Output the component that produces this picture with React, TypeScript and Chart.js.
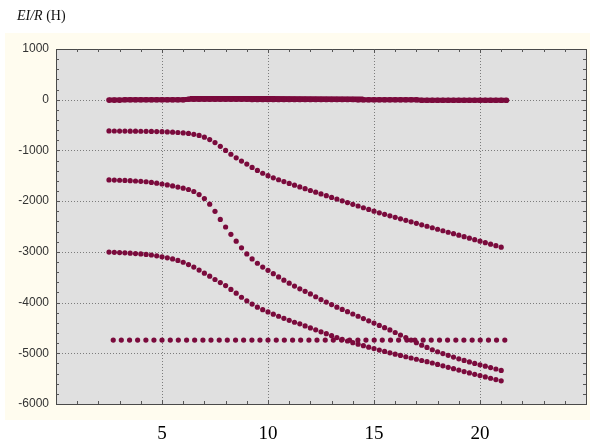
import React, { useEffect, useRef } from "react";
import { Chart, registerables } from "chart.js";
Chart.register(...registerables);

// ---- data ----
const X = [2.5, 2.75, 3, 3.25, 3.5, 3.75, 4, 4.25, 4.5, 4.75, 5, 5.25, 5.5, 5.75, 6, 6.25, 6.5, 6.75, 7, 7.25, 7.5, 7.75, 8, 8.25, 8.5, 8.75, 9, 9.25, 9.5, 9.75, 10, 10.25, 10.5, 10.75, 11, 11.25, 11.5, 11.75, 12, 12.25, 12.5, 12.75, 13, 13.25, 13.5, 13.75, 14, 14.25, 14.5, 14.75, 15, 15.25, 15.5, 15.75, 16, 16.25, 16.5, 16.75, 17, 17.25, 17.5, 17.75, 18, 18.25, 18.5, 18.75, 19, 19.25, 19.5, 19.75, 20, 20.25, 20.5, 20.75, 21];

const CURVE_A = [-615, -617, -618, -619, -620, -621, -622, -624, -626, -628, -631, -635, -640, -646, -654, -665, -682, -705, -738, -785, -845, -920, -1000, -1075, -1145, -1210, -1270, -1335, -1395, -1450, -1498, -1540, -1578, -1615, -1650, -1685, -1720, -1755, -1790, -1824, -1858, -1892, -1926, -1960, -1994, -2028, -2062, -2096, -2130, -2164, -2198, -2230, -2260, -2290, -2319, -2348, -2378, -2407, -2437, -2466, -2495, -2525, -2554, -2584, -2613, -2642, -2672, -2701, -2731, -2760, -2790, -2819, -2848, -2878, -2907];

const CURVE_B = [-1582, -1585, -1588, -1592, -1597, -1603, -1610, -1618, -1630, -1645, -1662, -1680, -1700, -1722, -1745, -1770, -1810, -1870, -1950, -2060, -2200, -2360, -2510, -2655, -2790, -2920, -3040, -3140, -3225, -3300, -3365, -3430, -3495, -3558, -3618, -3675, -3728, -3778, -3830, -3885, -3940, -3990, -4040, -4090, -4135, -4180, -4225, -4270, -4315, -4360, -4405, -4450, -4495, -4540, -4590, -4640, -4690, -4740, -4790, -4840, -4885, -4930, -4970, -5005, -5040, -5075, -5110, -5140, -5170, -5200, -5228, -5255, -5282, -5310, -5338];

const CURVE_C = [-3005, -3010, -3015, -3020, -3026, -3033, -3040, -3050, -3062, -3078, -3097, -3118, -3140, -3168, -3205, -3250, -3300, -3360, -3420, -3480, -3545, -3605, -3665, -3740, -3815, -3895, -3965, -4030, -4090, -4140, -4185, -4228, -4270, -4310, -4350, -4388, -4420, -4460, -4500, -4538, -4576, -4614, -4652, -4690, -4725, -4758, -4790, -4820, -4850, -4880, -4908, -4936, -4963, -4990, -5017, -5043, -5068, -5093, -5118, -5142, -5166, -5192, -5220, -5248, -5276, -5304, -5332, -5360, -5388, -5414, -5440, -5466, -5492, -5518, -5544];

const FLAT_X = [2.7, 3.08, 3.47, 3.85, 4.24, 4.62, 5.0, 5.39, 5.77, 6.16, 6.54, 6.93, 7.31, 7.7, 8.08, 8.47, 8.85, 9.24, 9.62, 10.0, 10.39, 10.77, 11.16, 11.54, 11.93, 12.31, 12.7, 13.08, 13.47, 13.85, 14.24, 14.62, 15.01, 15.39, 15.78, 16.16, 16.55, 16.93, 17.32, 17.7, 18.09, 18.47, 18.86, 19.24, 19.63, 20.01, 20.4, 20.78, 21.17];
const FLAT_Y = [-4740, -4740, -4740, -4740, -4740, -4740, -4740, -4740, -4740, -4740, -4740, -4740, -4740, -4740, -4740, -4740, -4740, -4740, -4740, -4740, -4740, -4740, -4740, -4740, -4740, -4740, -4740, -4740, -4740, -4740, -4740, -4740, -4740, -4740, -4740, -4740, -4740, -4740, -4740, -4740, -4740, -4740, -4740, -4740, -4740, -4740, -4740, -4740, -4740];

const BAND_X = [2.5, 2.75, 3, 3.25, 3.5, 3.75, 4, 4.25, 4.5, 4.75, 5, 5.25, 5.5, 5.75, 6, 6.25, 6.5, 6.75, 7, 7.25, 7.5, 7.75, 8, 8.25, 8.5, 8.75, 9, 9.25, 9.5, 9.75, 10, 10.25, 10.5, 10.75, 11, 11.25, 11.5, 11.75, 12, 12.25, 12.5, 12.75, 13, 13.25, 13.5, 13.75, 14, 14.25, 14.5, 14.75, 15, 15.25, 15.5, 15.75, 16, 16.25, 16.5, 16.75, 17, 17.25, 17.5, 17.75, 18, 18.25, 18.5, 18.75, 19, 19.25, 19.5, 19.75, 20, 20.25, 20.5, 20.75, 21, 21.25];
const BAND_Y = [-8, -8, -8, 0, 0, 0, 0, 0, 0, 0, 0, 0, 0, 0, 0, 10, 10, 10, 10, 10, 10, 10, 10, 10, 10, 10, 10, 5, 5, 5, 5, 5, 5, 5, 5, 5, 5, 5, 5, 5, 5, 5, 5, 5, 5, 5, 5, 0, 0, 0, 0, 0, 0, 0, 0, 0, 0, 0, 0, -10, -10, -10, -10, -10, -10, -10, -10, -10, -10, -10, -10, -10, -10, -10, -10, -10, -10];
const BAND_TOP_X = [6.3, 10, 14.5];
const BAND_TOP_Y = [35, 35, 25];

const X_TICKS = [5, 10, 15, 20];
const Y_TICKS = [1000, 0, -1000, -2000, -3000, -4000, -5000, -6000];
const X_GRID = [5, 10, 15, 20];
const Y_GRID = [0, -1000, -2000, -3000, -4000, -5000];

const MAROON = "#7a0a3c";

export default function App() {
  const ref = useRef<HTMLCanvasElement>(null);

  useEffect(() => {
    const canvas = ref.current!;
    const pts = (xs: number[], ys: number[]) => xs.map((x, i) => ({ x, y: ys[i] }));

    const decor = {
      id: "decor",
      beforeDraw(chart: any) {
        const { ctx, chartArea: ca, scales } = chart;
        const sx = scales.x, sy = scales.y;
        ctx.save();
        ctx.fillStyle = "#ffffff";
        ctx.fillRect(0, 0, chart.width, chart.height);
        ctx.fillStyle = "#fffcef";
        ctx.fillRect(5, 33, chart.width - 5, 420 - 33);
        ctx.fillStyle = "#e0e0e0";
        ctx.fillRect(ca.left, ca.top, ca.right - ca.left, ca.bottom - ca.top);
        // dotted grid
        ctx.strokeStyle = "#7c7c7c";
        ctx.lineWidth = 1;
        ctx.setLineDash([1, 2]);
        for (const v of X_GRID) {
          const p = Math.round(sx.getPixelForValue(v)) + 0.5;
          ctx.beginPath(); ctx.moveTo(p, ca.top); ctx.lineTo(p, ca.bottom); ctx.stroke();
        }
        for (const v of Y_GRID) {
          const p = Math.round(sy.getPixelForValue(v)) + 0.5;
          ctx.beginPath(); ctx.moveTo(ca.left, p); ctx.lineTo(ca.right, p); ctx.stroke();
        }
        ctx.setLineDash([]);
        // frame
        ctx.strokeStyle = "#4a4a4a";
        ctx.strokeRect(Math.round(ca.left) + 0.5, Math.round(ca.top) + 0.5, Math.round(ca.right - ca.left), Math.round(ca.bottom - ca.top));
        // inward ticks
        ctx.strokeStyle = "#555";
        for (let v = 1; v < 25; v++) {
          const p = Math.round(sx.getPixelForValue(v)) + 0.5;
          const len = v % 5 === 0 ? 4 : 3;
          ctx.beginPath();
          ctx.moveTo(p, ca.bottom); ctx.lineTo(p, ca.bottom - len);
          ctx.moveTo(p, ca.top); ctx.lineTo(p, ca.top + len);
          ctx.stroke();
        }
        for (let v = -5800; v < 1000; v += 200) {
          const p = Math.round(sy.getPixelForValue(v)) + 0.5;
          const len = v % 1000 === 0 ? 4 : 3;
          ctx.beginPath();
          ctx.moveTo(ca.left, p); ctx.lineTo(ca.left + len, p);
          ctx.moveTo(ca.right, p); ctx.lineTo(ca.right - len, p);
          ctx.stroke();
        }
        // axis title
        ctx.fillStyle = "#111";
        ctx.textBaseline = "alphabetic";
        ctx.textAlign = "left";
        ctx.font = 'italic 14px "Liberation Serif", "Times New Roman", serif';
        ctx.fillText("EI/R", 17, 20);
        const w = ctx.measureText("EI/R").width;
        ctx.font = '14px "Liberation Serif", "Times New Roman", serif';
        ctx.fillText(" (H)", 17 + w, 20);
        ctx.restore();
      },
    };

    const dot = { showLine: false, pointRadius: 2.6, pointBorderWidth: 0, backgroundColor: MAROON, borderColor: MAROON, pointHoverRadius: 2.6 };

    const chart = new Chart(canvas, {
      type: "scatter",
      data: {
        datasets: [
          { ...dot, data: pts(BAND_X, BAND_Y), showLine: true, borderWidth: 5, pointRadius: 2.8 },
          { ...dot, data: pts(BAND_TOP_X, BAND_TOP_Y), showLine: true, borderWidth: 4, pointRadius: 0 },
          { ...dot, data: pts(X, CURVE_A) },
          { ...dot, data: pts(X, CURVE_B) },
          { ...dot, data: pts(X, CURVE_C) },
          { ...dot, data: pts(FLAT_X, FLAT_Y) },
        ],
      },
      options: {
        animation: false,
        responsive: false,
        events: [],
        layout: { padding: { left: 0, top: 49, right: 4, bottom: 0 } },
        plugins: { legend: { display: false }, tooltip: { enabled: false } },
        scales: {
          x: {
            type: "linear",
            min: 0,
            max: 25,
            grid: { display: false, drawTicks: false },
            border: { display: false },
            afterBuildTicks: (s: any) => { s.ticks = X_TICKS.map((v) => ({ value: v })); },
            afterFit: (s: any) => { s.height = 39; },
            ticks: {
              padding: 19,
              maxRotation: 0,
              autoSkip: false,
              color: "#000",
              font: { family: '"Liberation Serif", "Times New Roman", serif', size: 19 },
            },
          },
          y: {
            type: "linear",
            min: -6000,
            max: 1000,
            grid: { display: false, drawTicks: false },
            border: { display: false },
            afterBuildTicks: (s: any) => { s.ticks = Y_TICKS.map((v) => ({ value: v })); },
            afterFit: (s: any) => { s.width = 56; },
            ticks: {
              padding: 7,
              autoSkip: false,
              color: "#333",
              font: { family: '"Liberation Sans", Arial, sans-serif', size: 12 },
              callback: (v: any) => String(v),
            },
          },
        },
      },
      plugins: [decor],
    });
    return () => chart.destroy();
  }, []);

  return (
    <div style={{ position: "absolute", left: 0, top: 0, width: 590, height: 443 }}>
      <canvas ref={ref} width={590} height={443} style={{ display: "block" }} />
    </div>
  );
}
